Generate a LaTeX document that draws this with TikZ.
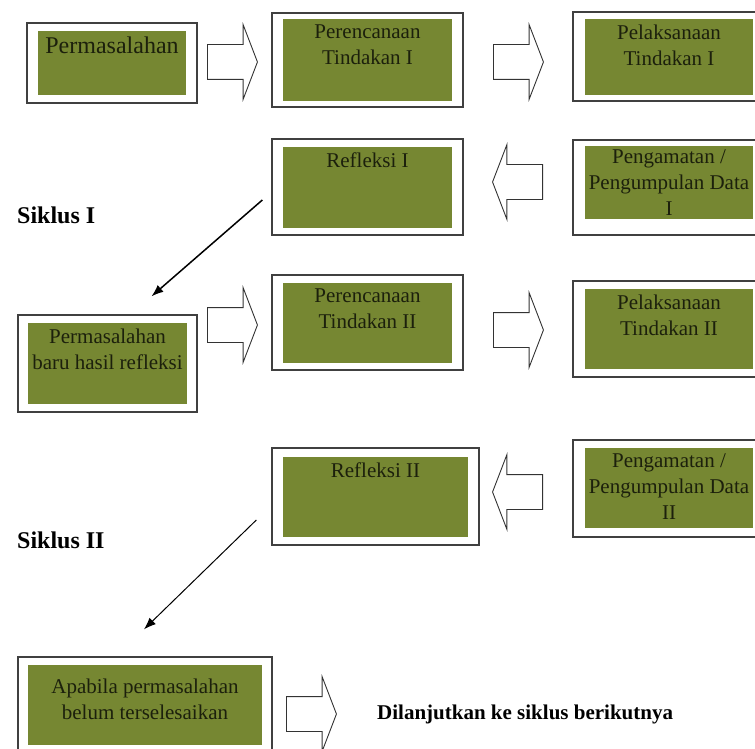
\documentclass[tikz,border=0pt]{standalone}
\usepackage{fontspec}
\setmainfont{Liberation Serif}
\usetikzlibrary{shapes.arrows,arrows.meta}
\definecolor{boxgreen}{RGB}{118,135,50}
\definecolor{txtdark}{RGB}{28,32,12}

\begin{document}
\begin{tikzpicture}[
                x=1pt, y=-1pt,
                outerbox/.style={draw=black!75, line width=1.3pt, fill=white, inner sep=0pt},
                greenbox/.style={fill=boxgreen, inner sep=0pt},
                lbl/.style={anchor=north, align=center, text=txtdark, inner sep=0pt, yshift=-6pt, font=\fontsize{21}{26}\selectfont},
                blockarrow/.style={single arrow, draw=black!80, fill=white, line width=0.9pt, inner sep=0pt,
                    text height=17pt, text depth=17pt, minimum height=50pt,
                    single arrow head extend=20pt, single arrow tip angle=138, anchor=tail},
                diag/.style={-{Latex[length=12pt,width=9pt]}, line width=1.5pt},
                siklus/.style={anchor=base west, inner sep=0pt, font=\bfseries\fontsize{24}{28}\selectfont}
            ]

                \useasboundingbox[fill=white] (0, 0) rectangle (755, 749);
                \clip (0, 0) rectangle (755, 749);

                \foreach \fr/\cx/\cy/\w/\h in {fr1/112/63/170/80, fr2/367.5/60/191/94, fr3/669.5/56.5/193/89,
                        fr4/367.5/187/191/96, fr5/669.5/187.5/193/95, fr6/107.5/363.5/179/97,
                        fr7/367.5/322.5/191/95, fr8/669.5/329/193/96, fr9/375.5/496.5/207/97,
                        fr10/669.5/488.5/193/97, fr11/145/713.5/254/113} {
                    \node[outerbox, minimum width=\w pt, minimum height=\h pt] (\fr) at (\cx, \cy) {};
                }

                \node[greenbox, minimum width=148pt, minimum height=64pt,
                    label={[lbl, font=\fontsize{24}{28}\selectfont]north:Permasalahan}] (masalah) at (112, 63) {};
                \node[greenbox, minimum width=169pt, minimum height=82pt,
                    label={[lbl]north:Perencanaan\\Tindakan I}] (renc1) at (367.5, 60) {};
                \node[greenbox, minimum width=168pt, minimum height=76pt,
                    label={[lbl]north:Pelaksanaan\\Tindakan I}] (pel1) at (669, 57) {};
                \node[greenbox, minimum width=169pt, minimum height=81pt,
                    label={[lbl]north:Refleksi I}] (refl1) at (367.5, 187.5) {};
                \node[greenbox, minimum width=168pt, minimum height=73pt,
                    label={[lbl, yshift=2pt]north:Pengamatan /\\Pengumpulan Data\\I}] (peng1) at (669, 182.5) {};
                \node[greenbox, minimum width=159pt, minimum height=81pt,
                    label={[lbl]north:Permasalahan\\baru hasil refleksi}] (masalah2) at (107.5, 363.5) {};
                \node[greenbox, minimum width=169pt, minimum height=80pt,
                    label={[lbl]north:Perencanaan\\Tindakan II}] (renc2) at (367.5, 323) {};
                \node[greenbox, minimum width=168pt, minimum height=80pt,
                    label={[lbl]north:Pelaksanaan\\Tindakan II}] (pel2) at (669, 329) {};
                \node[greenbox, minimum width=185pt, minimum height=80pt,
                    label={[lbl]north:Refleksi II}] (refl2) at (375.5, 497) {};
                \node[greenbox, minimum width=168pt, minimum height=80pt,
                    label={[lbl]north:Pengamatan /\\Pengumpulan Data\\II}] (peng2) at (669, 488) {};
                \node[greenbox, minimum width=234pt, minimum height=80pt,
                    label={[lbl, yshift=-8pt]north:Apabila permasalahan\\belum terselesaikan}] (apabila) at (145, 705) {};

                \node[blockarrow] (ar1) at (207, 62) {};
                \node[blockarrow] (ar2) at (493, 62) {};
                \node[blockarrow, shape border rotate=180] (ar3) at (543, 182) {};
                \node[blockarrow] (ar4) at (207, 325) {};
                \node[blockarrow] (ar5) at (493, 330) {};
                \node[blockarrow, shape border rotate=180] (ar6) at (543, 492) {};
                \node[blockarrow] (ar7) at (286, 714) {};

                \node[siklus] (sik1) at (17, 223) {Siklus I};
                \node[siklus] (sik2) at (17, 548) {Siklus II};
                \node[anchor=base west, inner sep=0pt, font=\bfseries\fontsize{21}{25}\selectfont] (lanjut) at (377, 719)
                    {Dilanjutkan ke siklus berikutnya};

                \draw[diag] ([xshift=-9pt, yshift=-13pt]fr4.west) -- ([xshift=44pt, yshift=18pt]fr6.north);
                \draw[diag, line width=1pt] ([xshift=-15pt, yshift=-23.5pt]fr9.west) -- ([xshift=-1pt, yshift=27pt]fr11.north);
            \end{tikzpicture}
\end{document}
